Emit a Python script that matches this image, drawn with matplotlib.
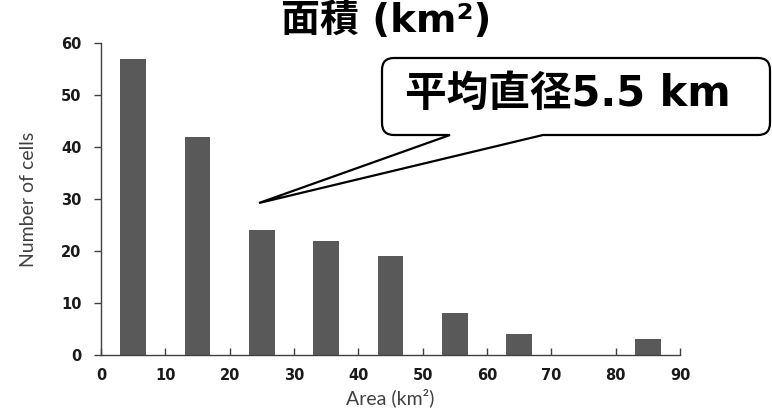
import matplotlib
matplotlib.use("Agg")
import matplotlib.pyplot as plt
from matplotlib.path import Path
from matplotlib.patches import PathPatch
from matplotlib.transforms import Affine2D

# Histogram of cell areas
bin_centers = [5, 15, 25, 35, 45, 55, 65, 75, 85]
cell_counts = [57, 42, 24, 22, 19, 8, 4, 0, 3]
x_ticks = [0, 10, 20, 30, 40, 50, 60, 70, 80, 90]
y_ticks = [0, 10, 20, 30, 40, 50, 60]

title_text = "面積 (km²)"
callout_text = "平均直径5.5 km"
x_label = "Area (km²)"
y_label = "Number of cells"

W, H = 772, 412
fig = plt.figure(figsize=(W / 100, H / 100), dpi=100)
ax = fig.add_axes([101 / W, 1 - 355 / H, 579 / W, 312 / H])

ax.bar(bin_centers, cell_counts, width=4, color="#595959", zorder=2)
ax.set_xlim(0, 90)
ax.set_ylim(0, 60)
ax.set_xticks(x_ticks)
ax.set_yticks(y_ticks)
for side in ("top", "right"):
    ax.spines[side].set_visible(False)
for side in ("left", "bottom"):
    ax.spines[side].set_color("#404040")
    ax.spines[side].set_linewidth(1.0)
ax.tick_params(axis="y", direction="out", length=5, width=1, color="#404040", pad=9)
ax.tick_params(axis="x", direction="in", length=5, width=1, color="#404040", pad=9)
for lab in ax.get_xticklabels() + ax.get_yticklabels():
    lab.set_fontfamily("DejaVu Sans")
    lab.set_fontweight("bold")
    lab.set_fontsize(10.5)
    lab.set_color("#1a1a1a")

ax.set_xlabel(x_label, fontfamily="Lato", fontsize=14, color="#404040", labelpad=4)
ax.set_ylabel(y_label, fontfamily="Lato", fontsize=14, color="#404040", labelpad=17)

cjk = ["DejaVu Sans", "Noto Sans CJK JP"]

# Title at the top of the figure
fig.text(386 / W, 1 - 21 / H, title_text, ha="center", va="center",
         fontfamily=cjk, fontweight="bold", fontsize=28, color="black")

# Speech-bubble callout, laid out in figure pixels (y measured from top)
left, right, top, bottom, r = 382, 770, 58, 135, 12
tail_l, tail_r, tip = 450, 543, (259, 203)
verts = [
    (tail_l, bottom), tip, (tail_r, bottom),
    (right - r, bottom), (right, bottom), (right, bottom - r),
    (right, top + r), (right, top), (right - r, top),
    (left + r, top), (left, top), (left, top + r),
    (left, bottom - r), (left, bottom), (left + r, bottom),
    (tail_l, bottom),
]
codes = [
    Path.MOVETO, Path.LINETO, Path.LINETO,
    Path.LINETO, Path.CURVE3, Path.CURVE3,
    Path.LINETO, Path.CURVE3, Path.CURVE3,
    Path.LINETO, Path.CURVE3, Path.CURVE3,
    Path.LINETO, Path.CURVE3, Path.CURVE3,
    Path.CLOSEPOLY,
]
px_to_fig = Affine2D().scale(1 / W, -1 / H).translate(0, 1) + fig.transFigure
bubble = PathPatch(Path(verts, codes), facecolor="white", edgecolor="black",
                   linewidth=1.6, transform=px_to_fig, zorder=5)
fig.patches.append(bubble)

fig.text(568 / W, 1 - 94 / H, callout_text, ha="center", va="center",
         fontfamily=cjk, fontweight="bold", fontsize=30, color="black", zorder=6)

fig.savefig("out.png", dpi=100)
